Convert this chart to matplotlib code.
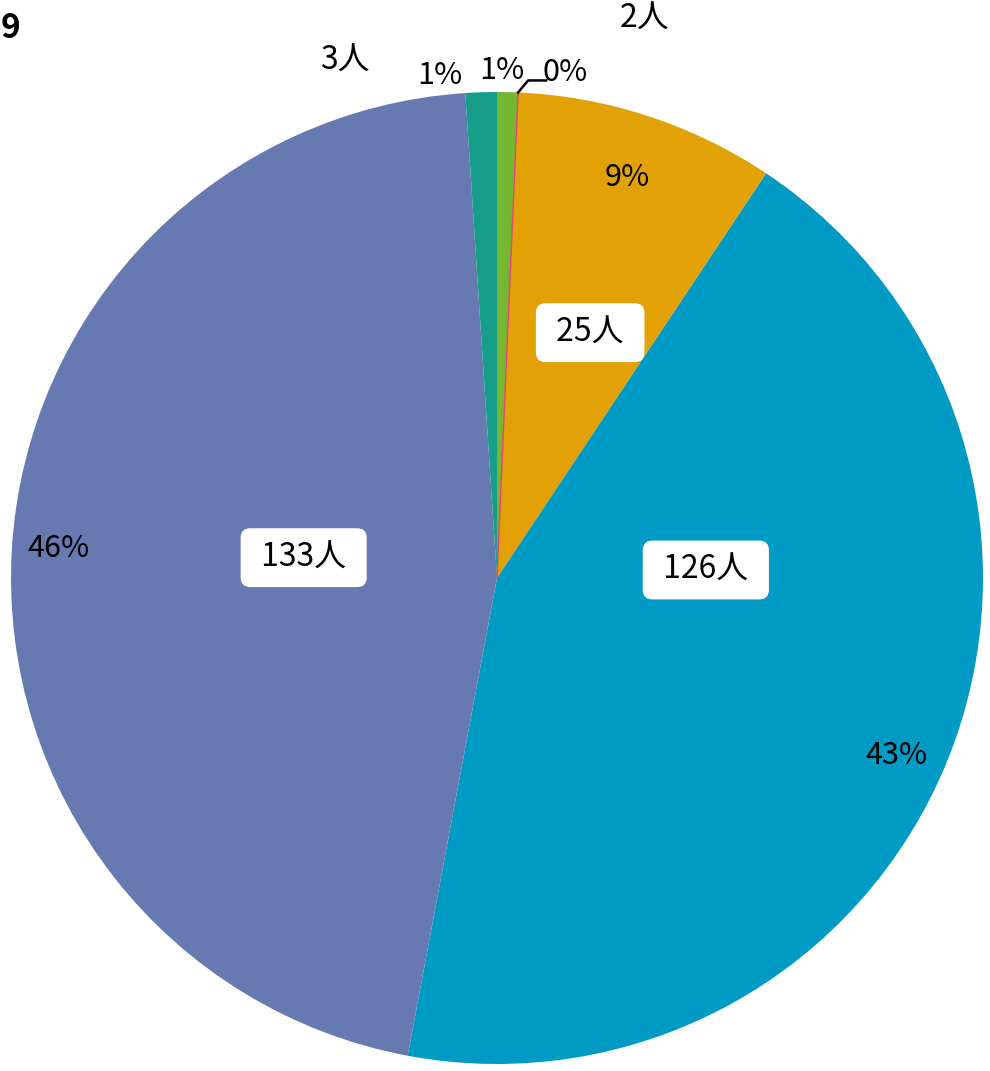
import numpy as np
import matplotlib.pyplot as plt

plt.rcParams['font.family'] = ['Noto Sans CJK JP', 'DejaVu Sans']

# slices clockwise from 12 o'clock
counts = [2, 0, 25, 126, 133, 3]
count_labels = ['2人', '', '25人', '126人', '133人', '3人']
pct_labels = ['1%', '0%', '9%', '43%', '46%', '1%']
colors = ['#76B731', '#E2437A', '#E2A206', '#009BC5', '#6779B1', '#179E8A']

# label layout: (degrees clockwise from top, radius as fraction of pie radius)
pct_pos = [(0.6, 1.045), (7.7, 1.05), (18.0, 0.866), (113.9, 0.90), (273.9, 0.905), (353.5, 1.04)]
cnt_pos = [(14.8, 1.19), None, (20.8, 0.54), (87.8, 0.43), (276.0, 0.40), (343.6, 1.11)]
boxed = [False, False, True, True, True, False]

W, H = 990, 1071
fig = plt.figure(figsize=(W / 100, H / 100), dpi=100)
ax = fig.add_axes([0, 0, 1, 1])

cx, cy, R = 497, H - 578, 486
ax.pie(counts, colors=colors, startangle=90, counterclock=False,
       center=(cx, cy), radius=R, wedgeprops=dict(linewidth=0))
ax.set_xlim(0, W)
ax.set_ylim(0, H)
ax.set_aspect('equal')
ax.axis('off')

total = sum(counts)
cum = np.cumsum([0] + counts)


def pt(deg, frac):
    a = np.radians(deg)
    return cx + R * frac * np.sin(a), cy + R * frac * np.cos(a)


# zero-size slice drawn as a thin line
zero_deg = 360 * cum[1] / total
x1, y1 = pt(zero_deg, 1.0)
ax.plot([cx, x1], [cy, y1], color=colors[1], lw=1)

fs = 23
for i in range(len(counts)):
    x, y = pt(*pct_pos[i])
    ax.text(x, y, pct_labels[i], ha='center', va='center', fontsize=fs - 1)
    if cnt_pos[i] is not None:
        x, y = pt(*cnt_pos[i])
        if boxed[i]:
            ax.text(x, y, ' ' + count_labels[i] + ' ', ha='center', va='center', fontsize=fs,
                    bbox=dict(boxstyle='round,pad=0.42,rounding_size=0.3', fc='white', ec='none'))
        else:
            ax.text(x, y, count_labels[i], ha='center', va='center', fontsize=fs)

# leader line for the 0% label
ex, ey = pt(zero_deg, 1.0)
ax.plot([ex, ex + 10, ex + 28], [ey, ey + 12, ey + 12], color='black', lw=1.8)

# remnant of the title at the top-left corner
fig.text(0.5 / W, 1 - 28 / H, '9', ha='left', va='center', fontsize=24, fontweight='bold')

fig.savefig('out.png', dpi=100)
